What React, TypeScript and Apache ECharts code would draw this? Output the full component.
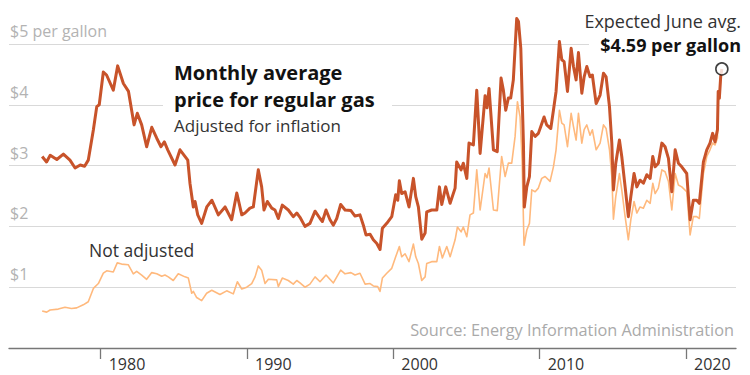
import React, { useEffect, useRef } from "react";
import * as echarts from "echarts";

// [decimal year, dollars per gallon]
const adjustedPrices: [number, number][] = [
  [1976.0, 3.15], [1976.3, 3.06], [1976.55, 3.17], [1977.0, 3.1], [1977.45, 3.19], [1977.9, 3.09],
  [1978.25, 2.96], [1978.6, 3.01], [1978.9, 2.99], [1979.15, 3.09], [1979.5, 3.59], [1979.73, 3.97],
  [1979.9, 4.0], [1980.18, 4.54], [1980.4, 4.49], [1980.86, 4.24], [1981.16, 4.64], [1981.55, 4.35],
  [1981.9, 4.22], [1982.28, 3.67], [1982.5, 3.86], [1982.8, 3.67], [1983.14, 3.31], [1983.49, 3.63],
  [1983.83, 3.45], [1984.12, 3.31], [1984.35, 3.39], [1984.58, 3.26], [1985.08, 3.01], [1985.42, 3.26],
  [1985.95, 3.09], [1986.1, 2.71], [1986.33, 2.32], [1986.45, 2.41], [1986.63, 2.19], [1986.9, 2.05],
  [1987.25, 2.32], [1987.6, 2.43], [1988.04, 2.19], [1988.5, 2.32], [1988.95, 2.11], [1989.3, 2.55],
  [1989.64, 2.19], [1989.86, 2.22], [1990.2, 2.3], [1990.43, 2.32], [1990.77, 2.93], [1991.0, 2.65],
  [1991.16, 2.27], [1991.39, 2.41], [1991.69, 2.3], [1991.91, 2.27], [1992.14, 2.13], [1992.41, 2.35],
  [1992.82, 2.27], [1993.16, 2.16], [1993.4, 2.22], [1993.62, 2.15], [1993.96, 2.0], [1994.3, 2.05],
  [1994.65, 2.25], [1994.99, 2.13], [1995.15, 2.08], [1995.4, 2.27], [1995.67, 2.11], [1995.9, 2.02],
  [1996.13, 2.13], [1996.4, 2.36], [1996.7, 2.27], [1997.1, 2.26], [1997.38, 2.17], [1997.72, 2.19],
  [1997.95, 2.02], [1998.13, 1.86], [1998.41, 1.87], [1998.63, 1.78], [1998.87, 1.72], [1999.09, 1.62],
  [1999.25, 1.97], [1999.55, 2.05], [1999.89, 2.16], [2000.16, 2.52], [2000.3, 2.43], [2000.41, 2.75],
  [2000.57, 2.54], [2000.8, 2.57], [2001.07, 2.32], [2001.37, 2.79], [2001.53, 2.49], [2001.71, 2.32],
  [2001.94, 1.79], [2002.17, 1.89], [2002.28, 2.24], [2002.62, 2.27], [2002.97, 2.27], [2003.15, 2.65],
  [2003.31, 2.36], [2003.58, 2.65], [2003.88, 2.38], [2004.22, 2.63], [2004.33, 3.06], [2004.63, 2.93],
  [2004.78, 3.04], [2005.02, 2.79], [2005.17, 3.37], [2005.47, 3.34], [2005.7, 4.24], [2005.93, 3.2],
  [2006.27, 4.15], [2006.4, 3.95], [2006.54, 4.27], [2006.84, 3.26], [2007.1, 3.23], [2007.36, 4.44],
  [2007.52, 4.24], [2007.68, 3.91], [2007.86, 4.11], [2008.02, 4.11], [2008.2, 4.41], [2008.43, 5.42],
  [2008.55, 5.37], [2008.71, 4.93], [2008.89, 3.37], [2008.95, 2.32], [2009.12, 2.65], [2009.3, 2.82],
  [2009.46, 3.56], [2009.69, 3.48], [2009.91, 3.53], [2010.07, 3.64], [2010.3, 3.8], [2010.48, 3.67],
  [2010.76, 3.61], [2010.94, 3.91], [2011.12, 4.22], [2011.35, 5.04], [2011.51, 4.74], [2011.67, 4.71],
  [2011.9, 4.22], [2012.15, 4.93], [2012.31, 4.63], [2012.49, 4.41], [2012.65, 4.86], [2012.88, 4.19],
  [2013.04, 4.46], [2013.22, 4.63], [2013.44, 4.46], [2013.6, 4.49], [2013.86, 4.02], [2014.13, 4.16],
  [2014.36, 4.52], [2014.54, 4.46], [2014.77, 3.97], [2014.93, 3.37], [2015.04, 2.6], [2015.2, 3.04],
  [2015.45, 3.42], [2015.61, 3.15], [2015.84, 2.65], [2016.06, 2.16], [2016.23, 2.49], [2016.45, 2.87],
  [2016.64, 2.65], [2016.86, 2.76], [2017.09, 2.71], [2017.32, 2.85], [2017.55, 2.79], [2017.73, 3.15],
  [2017.89, 2.98], [2018.11, 3.04], [2018.35, 3.37], [2018.57, 3.31], [2018.8, 3.12], [2019.03, 2.57],
  [2019.26, 3.26], [2019.48, 3.04], [2019.71, 2.98], [2020.05, 2.87], [2020.28, 2.11], [2020.5, 2.43],
  [2020.73, 2.43], [2020.91, 2.38], [2021.19, 3.06], [2021.42, 3.26], [2021.64, 3.37], [2021.82, 3.53],
  [2021.98, 3.39], [2022.15, 3.59], [2022.2, 4.22], [2022.28, 4.11], [2022.37, 4.46], [2022.45, 4.59],
];

const nominalPrices: [number, number][] = [
  [1976.0, 0.61], [1976.31, 0.59], [1976.54, 0.625], [1977.1, 0.64], [1977.56, 0.67], [1978.0, 0.65],
  [1978.36, 0.66], [1978.81, 0.71], [1979.15, 0.76], [1979.5, 0.98], [1979.84, 1.06], [1980.18, 1.23],
  [1980.41, 1.27], [1980.86, 1.25], [1981.13, 1.4], [1981.43, 1.38], [1981.88, 1.37], [1982.23, 1.22],
  [1982.46, 1.26], [1982.8, 1.2], [1983.14, 1.13], [1983.49, 1.24], [1983.83, 1.22], [1984.17, 1.18],
  [1984.39, 1.2], [1984.62, 1.17], [1984.96, 1.11], [1985.3, 1.22], [1985.76, 1.17], [1985.99, 1.15],
  [1986.22, 0.9], [1986.33, 0.93], [1986.56, 0.83], [1986.9, 0.78], [1987.24, 0.9], [1987.59, 0.95],
  [1988.15, 0.88], [1988.61, 0.94], [1989.06, 0.89], [1989.34, 1.09], [1989.64, 0.97], [1989.98, 1.0],
  [1990.32, 1.06], [1990.55, 1.17], [1990.77, 1.35], [1991.0, 1.28], [1991.23, 1.06], [1991.46, 1.13],
  [1992.03, 1.12], [1992.14, 1.01], [1992.41, 1.15], [1992.82, 1.11], [1993.16, 1.05], [1993.4, 1.11],
  [1993.62, 1.07], [1993.96, 1.0], [1994.3, 1.05], [1994.65, 1.17], [1994.99, 1.09], [1995.4, 1.2],
  [1995.9, 1.07], [1996.4, 1.28], [1996.7, 1.22], [1997.1, 1.24], [1997.38, 1.2], [1997.72, 1.23],
  [1998.07, 1.05], [1998.41, 1.06], [1998.63, 1.02], [1998.93, 1.01], [1999.09, 0.93], [1999.25, 1.15],
  [1999.55, 1.23], [1999.89, 1.31], [2000.16, 1.5], [2000.41, 1.67], [2000.57, 1.5], [2000.8, 1.55],
  [2001.07, 1.42], [2001.37, 1.71], [2001.53, 1.5], [2001.71, 1.39], [2001.94, 1.11], [2002.17, 1.17],
  [2002.28, 1.39], [2002.62, 1.42], [2002.97, 1.42], [2003.15, 1.67], [2003.35, 1.48], [2003.65, 1.67],
  [2003.88, 1.5], [2004.22, 1.78], [2004.38, 1.99], [2004.63, 1.91], [2004.78, 1.99], [2005.02, 1.83],
  [2005.24, 2.19], [2005.47, 2.22], [2005.7, 2.93], [2005.93, 2.27], [2006.27, 2.87], [2006.4, 2.8],
  [2006.54, 2.96], [2006.84, 2.27], [2007.1, 2.26], [2007.4, 3.15], [2007.64, 2.82], [2007.86, 3.04],
  [2008.09, 3.04], [2008.32, 3.48], [2008.48, 4.05], [2008.66, 3.8], [2008.8, 3.09], [2008.93, 1.69],
  [2009.12, 1.94], [2009.3, 2.05], [2009.46, 2.6], [2009.69, 2.57], [2009.91, 2.63], [2010.14, 2.79],
  [2010.37, 2.82], [2010.71, 2.74], [2010.94, 2.98], [2011.12, 3.26], [2011.35, 3.91], [2011.51, 3.7],
  [2011.67, 3.67], [2011.9, 3.31], [2012.15, 3.86], [2012.31, 3.64], [2012.49, 3.42], [2012.65, 3.86],
  [2012.88, 3.37], [2013.04, 3.59], [2013.22, 3.67], [2013.44, 3.5], [2013.6, 3.59], [2013.86, 3.26],
  [2014.13, 3.37], [2014.36, 3.67], [2014.54, 3.61], [2014.77, 3.26], [2014.93, 2.82], [2015.04, 2.12],
  [2015.2, 2.49], [2015.45, 2.87], [2015.61, 2.6], [2015.84, 2.16], [2016.06, 1.78], [2016.23, 2.11],
  [2016.45, 2.41], [2016.64, 2.22], [2016.86, 2.32], [2017.09, 2.3], [2017.32, 2.43], [2017.55, 2.38],
  [2017.73, 2.71], [2017.89, 2.54], [2018.11, 2.63], [2018.35, 2.93], [2018.57, 2.9], [2018.8, 2.74],
  [2019.03, 2.27], [2019.26, 2.87], [2019.48, 2.68], [2019.71, 2.65], [2020.05, 2.57], [2020.28, 1.86],
  [2020.5, 2.16], [2020.73, 2.16], [2020.91, 2.13], [2021.19, 2.87], [2021.42, 3.15], [2021.64, 3.26],
  [2021.82, 3.37], [2021.98, 3.34], [2022.15, 3.45], [2022.2, 4.2], [2022.28, 4.09], [2022.37, 4.44],
];

const expectedJune: [number, number][] = [[2022.45, 4.59]];
const yearTicks = [1980, 1990, 2000, 2010, 2020];
const priceTickLabels: Record<number, string> = { 0: "", 1: "$1", 2: "$2", 3: "$3", 4: "$4", 5: "$5 per gallon" };

const FONT = "'Open Sans', Roboto, 'Liberation Sans', sans-serif";
const DARK = "#c8532a";
const LIGHT = "#ffb97d";

export default function App() {
  const ref = useRef<HTMLDivElement>(null);
  useEffect(() => {
    const chart = echarts.init(ref.current!, null, { renderer: "svg" });
    chart.setOption({
      animation: false,
      backgroundColor: "#fff",
      grid: { left: 9, right: 14, top: 44, bottom: 27, containLabel: false },
      xAxis: {
        type: "value",
        min: 1973.733,
        max: 2023.417,
        axisLine: { show: true, lineStyle: { color: "#777", width: 1.3 } },
        axisTick: { show: true, length: 11, customValues: yearTicks, lineStyle: { color: "#777", width: 1.3 } },
        axisLabel: {
          customValues: yearTicks,
          align: "left",
          verticalAlign: "top",
          padding: [0, 0, 0, 8],
          margin: 8,
          fontSize: 16,
          lineHeight: 16,
          color: "#333",
          fontFamily: FONT,
          formatter: (v: number) => String(v),
        },
        splitLine: { show: false },
      },
      yAxis: {
        type: "value",
        min: 0,
        max: 5,
        interval: 1,
        axisLine: { show: false },
        axisTick: { show: false },
        axisLabel: {
          inside: true,
          margin: 1,
          verticalAlign: "bottom",
          padding: [0, 0, 5, 0],
          fontSize: 16,
          color: "#b3b3b3",
          fontFamily: FONT,
          formatter: (v: number) => priceTickLabels[v] ?? "",
        },
        splitLine: { show: true, lineStyle: { color: "#d9d9d9", width: 1 } },
      },
      series: [
        {
          type: "line",
          data: nominalPrices,
          showSymbol: false,
          clip: false,
          z: 3,
          lineStyle: { color: LIGHT, width: 1.6, join: "round" },
        },
        {
          type: "line",
          data: adjustedPrices,
          showSymbol: false,
          clip: false,
          z: 4,
          lineStyle: { color: DARK, width: 3, join: "round" },
        },
        {
          type: "scatter",
          data: expectedJune,
          symbol: "circle",
          symbolSize: 12,
          clip: false,
          z: 5,
          itemStyle: { color: "#fff", borderColor: "#111", borderWidth: 1.6 },
        },
      ],
      graphic: [
        { type: "rect", z: 1, shape: { x: 163, y: 96, width: 229, height: 16 }, style: { fill: "#fff" } },
        { type: "rect", z: 1, shape: { x: 589, y: 36, width: 161, height: 16 }, style: { fill: "#fff" } },
        {
          type: "text", z: 2, x: 174, y: 72,
          style: { text: "Monthly average", font: `bold 20px ${FONT}`, fill: "#121212", textVerticalAlign: "middle" },
        },
        {
          type: "text", z: 2, x: 174, y: 99,
          style: { text: "price for regular gas", font: `bold 20px ${FONT}`, fill: "#121212", textVerticalAlign: "middle" },
        },
        {
          type: "text", z: 2, x: 174, y: 125,
          style: { text: "Adjusted for inflation", font: `17px ${FONT}`, fill: "#333", textVerticalAlign: "middle" },
        },
        {
          type: "text", z: 2, x: 89, y: 250,
          style: { text: "Not adjusted", font: `17.5px ${FONT}`, fill: "#333", textVerticalAlign: "middle" },
        },
        {
          type: "text", z: 2, x: 741, y: 21,
          style: { text: "Expected June avg.", font: `18px ${FONT}`, fill: "#333", textAlign: "right", textVerticalAlign: "middle" },
        },
        {
          type: "text", z: 2, x: 741, y: 45,
          style: { text: "$4.59 per gallon", font: `bold 18px ${FONT}`, fill: "#121212", textAlign: "right", textVerticalAlign: "middle" },
        },
        {
          type: "text", z: 2, x: 734, y: 330,
          style: { text: "Source: Energy Information Administration", font: `16.3px ${FONT}`, fill: "#aaa", textAlign: "right", textVerticalAlign: "middle" },
        },
      ],
    });
    return () => chart.dispose();
  }, []);
  return (
    <div
      ref={ref}
      style={{ position: "fixed", left: 0, top: 0, width: 750, height: 375, background: "#fff" }}
    />
  );
}
